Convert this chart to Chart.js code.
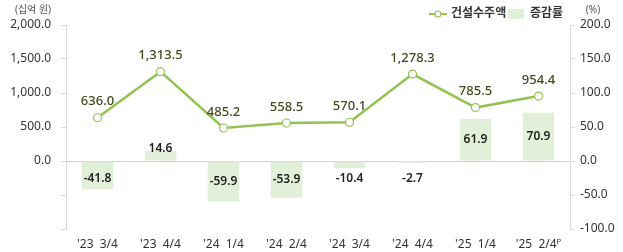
<!DOCTYPE html>
<html>
<head>
<meta charset="utf-8">
<script src="https://cdn.jsdelivr.net/npm/chart.js@4.4.1/dist/chart.umd.min.js"></script>
<style>
    html, body { margin: 0; padding: 0; background: #fff; }
    #wrap { width: 623px; height: 252px; position: relative; }
</style>
</head>
<body>
<div id="wrap"><canvas id="orderChart" width="623" height="252"></canvas></div>
<script>
const quarters = ["'23  3/4", "'23  4/4", "'24  1/4", "'24  2/4", "'24  3/4", "'24  4/4", "'25  1/4", "'25  2/4ᴾ"];
const orderAmount = [636.0, 1313.5, 485.2, 558.5, 570.1, 1278.3, 785.5, 954.4];
const changeRate = [-41.8, 14.6, -59.9, -53.9, -10.4, -2.7, 61.9, 70.9];
const leftTicks = [-1000, -500, 0, 500, 1000, 1500, 2000];
const rightTicks = [-100, -50, 0, 50, 100, 150, 200];

const lineColor = '#92c353';
const barColor = '#e2f0d9';
const font = "'Noto Sans', 'Noto Sans CJK KR', sans-serif";

function fmt(v) {
    return v.toLocaleString('en-US', { minimumFractionDigits: 1, maximumFractionDigits: 1 });
}

// Draws value labels, unit captions and the legend
const labelPlugin = {
    id: 'labels',
    afterDatasetsDraw(chart) {
        const ctx = chart.ctx;
        const zeroY = chart.scales.y1.getPixelForValue(0);
        ctx.save();
        ctx.textAlign = 'center';
        ctx.textBaseline = 'middle';

        // bar labels
        ctx.font = "600 12px " + font;
        ctx.fillStyle = '#222';
        chart.getDatasetMeta(0).data.forEach((bar, i) => {
            const v = changeRate[i];
            let y = (bar.y + zeroY) / 2;
            if (v < 0) y = Math.max(y, zeroY + 18);
            else y = Math.min(y, zeroY - 12);
            ctx.fillText(fmt(v), bar.x, y);
        });

        // line labels
        ctx.font = "500 13px " + font;
        ctx.fillStyle = '#414a1c';
        chart.getDatasetMeta(1).data.forEach((pt, i) => {
            ctx.fillText(fmt(orderAmount[i]), pt.x, pt.y - 16);
        });

        // unit captions
        ctx.font = "10px " + font;
        ctx.fillStyle = '#555';
        ctx.fillText('(십억 원)', 33, 10);
        ctx.fillText('(%)', 593, 10);

        // legend
        const ly = 14;
        ctx.strokeStyle = lineColor;
        ctx.lineWidth = 2;
        ctx.beginPath();
        ctx.moveTo(429, ly);
        ctx.lineTo(447, ly);
        ctx.stroke();
        ctx.beginPath();
        ctx.arc(438, ly, 3, 0, Math.PI * 2);
        ctx.fillStyle = '#fff';
        ctx.fill();
        ctx.lineWidth = 1.2;
        ctx.stroke();
        ctx.fillStyle = barColor;
        ctx.fillRect(508, ly - 5, 16, 10);
        ctx.font = "bold 12px " + font;
        ctx.fillStyle = '#333';
        ctx.textAlign = 'left';
        ctx.fillText('건설수주액', 451, ly);
        ctx.fillText('증감률', 530, ly);
        ctx.restore();
    }
};

const ctx = document.getElementById('orderChart').getContext('2d');
new Chart(ctx, {
    type: 'bar',
    data: {
        labels: quarters,
        datasets: [{
            type: 'bar',
            label: '증감률',
            data: changeRate,
            yAxisID: 'y1',
            backgroundColor: barColor,
            barPercentage: 0.5,
            categoryPercentage: 1.0,
            order: 2
        }, {
            type: 'line',
            label: '건설수주액',
            data: orderAmount,
            yAxisID: 'y',
            borderColor: lineColor,
            borderWidth: 2.5,
            pointBackgroundColor: '#fff',
            pointBorderColor: lineColor,
            pointBorderWidth: 1.2,
            pointRadius: 4,
            tension: 0,
            order: 1
        }]
    },
    options: {
        responsive: false,
        animation: false,
        layout: { padding: { top: 25, left: 0, right: 0, bottom: 0 } },
        plugins: {
            legend: { display: false },
            tooltip: { enabled: false }
        },
        scales: {
            x: {
                grid: { display: false },
                border: { display: false },
                ticks: { color: '#333', font: { family: font, size: 12 }, padding: 0, maxRotation: 0 },
                afterFit(scale) { scale.height = 23; }
            },
            y: {
                position: 'left',
                min: -1000,
                max: 2000,
                afterBuildTicks(scale) { scale.ticks = leftTicks.map(v => ({ value: v })); },
                grid: { drawOnChartArea: false, tickLength: 5, color: '#d9d9d9' },
                border: { color: '#d9d9d9' },
                ticks: {
                    color: '#333',
                    font: { family: font, size: 12 },
                    padding: 10,
                    callback: v => v < 0 ? '' : fmt(v)
                },
                afterFit(scale) { scale.width = 66; }
            },
            y1: {
                position: 'right',
                min: -100,
                max: 200,
                afterBuildTicks(scale) { scale.ticks = rightTicks.map(v => ({ value: v })); },
                grid: {
                    drawOnChartArea: true,
                    tickLength: 5,
                    color: c => c.tick && c.tick.value === 0 ? '#d0d0d0' : 'rgba(0,0,0,0)',
                    tickColor: '#d9d9d9'
                },
                border: { color: '#d9d9d9' },
                ticks: {
                    color: '#333',
                    font: { family: font, size: 12 },
                    padding: 5,
                    callback: v => fmt(v)
                },
                afterFit(scale) { scale.width = 53; }
            }
        }
    },
    plugins: [labelPlugin]
});
</script>
</body>
</html>
